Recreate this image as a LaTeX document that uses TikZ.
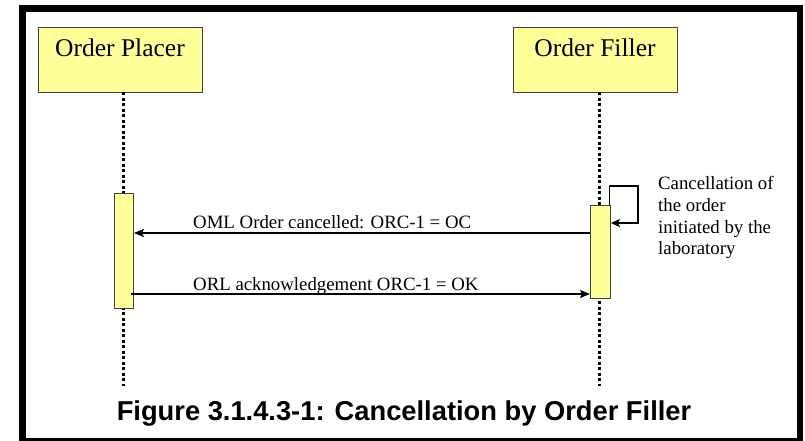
\documentclass[tikz,border=0pt]{standalone}
\usepackage{fontspec}
\setmainfont{Liberation Serif}
\newfontfamily\capfont{Liberation Sans}
\usetikzlibrary{arrows.meta}
\definecolor{boxyellow}{HTML}{FFFF99}
\tikzset{
  actorbox/.style={draw=black!75, line width=0.9pt, fill=boxyellow, minimum width=164pt, minimum height=65pt, inner sep=0pt, anchor=north west},
  actorname/.style={anchor=base, font=\fontsize{25.5}{28}\selectfont, inner sep=0pt},
  lifeline/.style={line width=3pt, dash pattern=on 3pt off 2.5pt},
  actbox/.style={draw=black!75, line width=0.9pt, fill=boxyellow, inner sep=0pt, anchor=north west},
  msg/.style={line width=1.8pt, -{Stealth[length=10pt,width=8pt,inset=2pt]}},
  msglabel/.style={anchor=base west, font=\fontsize{18.8}{21.5}\selectfont, inner sep=0pt},
  note/.style={anchor=north west, align=left, font=\fontsize{18.8}{21.8}\selectfont, inner sep=0pt},
  caption/.style={anchor=base, font=\capfont\bfseries\fontsize{27.3}{30}\selectfont, inner sep=0pt}
}
\begin{document}
\begin{tikzpicture}[x=1pt,y=-1pt]
\useasboundingbox (0,0) rectangle (805,440);
\fill[white] (0,0) rectangle (805,440);
\begin{scope}
\clip (0,0) rectangle (805,440);
\draw[line width=6.5pt] (22.5,8.5) rectangle (800,441);
\end{scope}

% actors
\node[actorbox] (op) at (38,27) {};
\node[actorbox] (of) at (513,27) {};
\node[actorname] (opname) at (120,56) {Order Placer};
\node[actorname] (ofname) at (595,56) {Order Filler};

% lifelines
\coordinate (opTop) at (123,92);
\coordinate (opEnd) at (123,386);
\coordinate (ofTop) at (599.5,92);
\coordinate (ofEnd) at (599.5,386);
\draw[lifeline] (opTop) -- (opEnd);
\draw[lifeline] (ofTop) -- (ofEnd);

% activations
\node[actbox, minimum width=19pt, minimum height=115pt] (act1) at (114,193) {};
\node[actbox, minimum width=20pt, minimum height=93pt] (act2) at (590,205) {};

% self loop
\coordinate (l1) at (609.5,186);
\coordinate (l2) at (638,186);
\coordinate (l3) at (638,223);
\draw[line width=1.4pt, -{Stealth[length=9pt,width=8pt,inset=2pt]}]
  (act2.north east -| l1) -- (l1) -- (l2) -- (l3) -- (act2.east |- l3);

% messages
\coordinate (m1) at (0,233);
\coordinate (m2) at (0,294);
\draw[msg] (act2.west |- m1) -- (act1.east |- m1);
\draw[msg] (131,294) coordinate (m2s) -- (act2.west |- m2);
\node[msglabel] (lab1) at (193,228) {OML Order cancelled: ORC-1 = OC};
\node[msglabel] (lab2) at (193,290) {ORL acknowledgement ORC-1 = OK};

% note
\node[note] (nt) at (658,176) {Cancellation of\\the order\\initiated by the\\laboratory};

% caption
\node[caption] (cap) at (404,420) {Figure 3.1.4.3-1: Cancellation by Order Filler};
\end{tikzpicture}
\end{document}
